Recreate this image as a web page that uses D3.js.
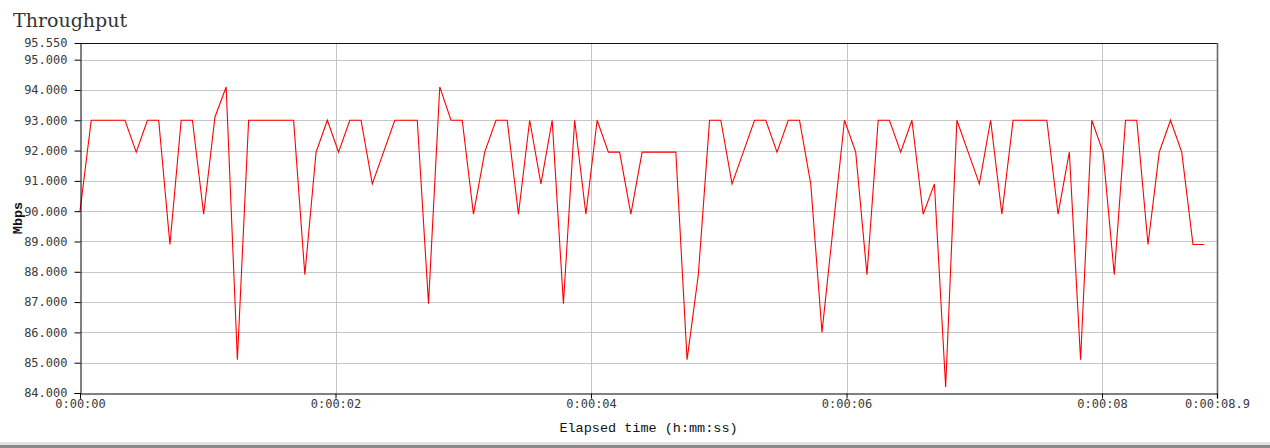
<!DOCTYPE html>
<html>
<head>
<meta charset="utf-8">
<script src="https://cdn.jsdelivr.net/npm/d3@7"></script>
<style>
	body { margin: 0; background: #fff; }
	svg { display: block; }
</style>
</head>
<body>
<div id="chart"></div>
<script>
// sample times (s) and throughput (Mbps)
const times = [
	0.000, 0.088, 0.176, 0.264, 0.352, 0.440, 0.528, 0.616, 0.704, 0.792,
	0.880, 0.968, 1.056, 1.144, 1.232, 1.320, 1.408, 1.496, 1.584, 1.672,
	1.760, 1.848, 1.936, 2.024, 2.112, 2.200, 2.288, 2.376, 2.464, 2.552,
	2.640, 2.728, 2.816, 2.904, 2.992, 3.080, 3.168, 3.256, 3.344, 3.432,
	3.520, 3.608, 3.696, 3.784, 3.872, 3.960, 4.048, 4.136, 4.224, 4.312,
	4.400, 4.488, 4.576, 4.664, 4.752, 4.840, 4.928, 5.016, 5.104, 5.192,
	5.280, 5.368, 5.456, 5.544, 5.632, 5.720, 5.808, 5.896, 5.984, 6.072,
	6.160, 6.248, 6.336, 6.424, 6.512, 6.600, 6.688, 6.776, 6.864, 6.952,
	7.040, 7.128, 7.216, 7.304, 7.392, 7.480, 7.568, 7.656, 7.744, 7.832,
	7.920, 8.008, 8.096, 8.184, 8.272, 8.360, 8.448, 8.536, 8.624, 8.712,
	8.800
];
const mbps = [
	90.0, 93.0, 93.0, 93.0, 93.0, 91.95, 93.0, 93.0, 88.9, 93.0,
	93.0, 89.9, 93.1, 94.1, 85.1, 93.0, 93.0, 93.0, 93.0, 93.0,
	87.9, 91.95, 93.0, 91.95, 93.0, 93.0, 90.9, 91.95, 93.0, 93.0,
	93.0, 86.95, 94.1, 93.0, 93.0, 89.9, 91.95, 93.0, 93.0, 89.9,
	93.0, 90.9, 93.0, 86.95, 93.0, 89.9, 93.0, 91.95, 91.95, 89.9,
	91.95, 91.95, 91.95, 91.95, 85.1, 87.9, 93.0, 93.0, 90.9, 91.95,
	93.0, 93.0, 91.95, 93.0, 93.0, 90.9, 86.0, 89.5, 93.0, 91.95,
	87.9, 93.0, 93.0, 91.95, 93.0, 89.9, 90.9, 84.2, 93.0, 91.95,
	90.9, 93.0, 89.9, 93.0, 93.0, 93.0, 93.0, 89.9, 91.95, 85.1,
	93.0, 91.95, 87.9, 93.0, 93.0, 88.9, 91.95, 93.0, 91.95, 88.9,
	88.9
];
const yTicks = [84, 85, 86, 87, 88, 89, 90, 91, 92, 93, 94, 95, 95.55];
const xTicks = [0, 2, 4, 6, 8, 8.9];
const xTickLabels = ['0:00:00', '0:00:02', '0:00:04', '0:00:06', '0:00:08', '0:00:08.9'];
const xMax = 8.9;
const yMin = 84, yMax = 95.55;

const width = 1270, height = 448;
// top/right/bot/left
const margin = [43, 53, 55, 80];

const svg = d3.select('#chart')
	.append('svg')
	.attr('width', width)
	.attr('height', height);

const x = d3.scaleLinear()
	.domain([0, xMax])
	.range([margin[3], width - margin[1]]);
const y = d3.scaleLinear()
	.domain([yMin, yMax])
	.range([height - margin[2], margin[0]]);

// GRID
svg.append('g')
	.selectAll('line')
	.data(yTicks.filter(d => d > yMin && d < yMax))
	.join('line')
	.attr('x1', x(0)).attr('x2', x(xMax))
	.attr('y1', d => Math.round(y(d)) + 0.5)
	.attr('y2', d => Math.round(y(d)) + 0.5)
	.attr('stroke', '#c6c6c6');
svg.append('g')
	.selectAll('line')
	.data(xTicks.filter(d => d > 0 && d < xMax))
	.join('line')
	.attr('x1', d => Math.round(x(d)) + 0.5)
	.attr('x2', d => Math.round(x(d)) + 0.5)
	.attr('y1', y(yMax)).attr('y2', y(yMin))
	.attr('stroke', '#c6c6c6');

// frame: top black, right grey
svg.append('line')
	.attr('x1', x(0)).attr('x2', x(xMax) + 1)
	.attr('y1', Math.round(y(yMax)) + 0.5).attr('y2', Math.round(y(yMax)) + 0.5)
	.attr('stroke', '#111');
svg.append('line')
	.attr('x1', Math.round(x(xMax)) + 0.5).attr('x2', Math.round(x(xMax)) + 0.5)
	.attr('y1', y(yMax)).attr('y2', y(yMin) + 5)
	.attr('stroke', '#6a6a6a')
	.attr('stroke-width', 1.6);

// DATA LINE
const line = d3.line()
	.x((d, i) => x(times[i]))
	.y(d => y(d));
svg.append('path')
	.datum(mbps)
	.attr('d', line)
	.attr('fill', 'none')
	.attr('stroke', '#ff0000')
	.attr('stroke-width', 1.1)
	.attr('stroke-linejoin', 'miter');

// AXES
const yAxis = d3.axisLeft(y)
	.tickValues(yTicks)
	.tickFormat(d3.format('.3f'))
	.tickSize(6)
	.tickPadding(7);
const gy = svg.append('g')
	.attr('transform', `translate(${x(0) + 0.5},0)`)
	.call(yAxis);
gy.select('.domain').attr('stroke', '#000');
gy.selectAll('.tick line').attr('stroke', '#000')
	.filter(d => d === yMax).remove();
gy.selectAll('.tick text')
	.style('font-family', '"DejaVu Sans Mono", monospace')
	.style('font-size', '12px')
	.attr('fill', '#3a3a3a');

const xAxis = d3.axisBottom(x)
	.tickValues(xTicks)
	.tickFormat((d, i) => xTickLabels[i])
	.tickSize(5)
	.tickPadding(1);
const gx = svg.append('g')
	.attr('transform', `translate(0,${y(yMin) + 0.5})`)
	.call(xAxis);
gx.select('.domain').attr('stroke', '#000');
gx.selectAll('.tick line').attr('stroke', '#000');
gx.selectAll('.tick text')
	.style('font-family', '"DejaVu Sans Mono", monospace')
	.style('font-size', '12px')
	.attr('fill', '#3a3a3a');

// TITLES
svg.append('text')
	.attr('x', 13)
	.attr('y', 27)
	.text('Throughput')
	.style('font-family', '"DejaVu Serif", serif')
	.style('font-size', '19px')
	.attr('fill', '#333');

svg.append('text')
	.attr('transform', `translate(22,${(y(yMin) + y(yMax)) / 2}) rotate(-90)`)
	.attr('text-anchor', 'middle')
	.text('Mbps')
	.style('font-family', '"Liberation Mono", monospace')
	.style('font-size', '13.5px')
	.style('font-weight', 'bold')
	.attr('fill', '#111');

svg.append('text')
	.attr('x', (x(0) + x(xMax)) / 2)
	.attr('y', 432)
	.attr('text-anchor', 'middle')
	.text('Elapsed time (h:mm:ss)')
	.style('font-family', '"Liberation Mono", monospace')
	.style('font-size', '13.5px')
	.attr('fill', '#111');

// bottom strip of the window
svg.append('rect')
	.attr('x', 0).attr('y', 442)
	.attr('width', width).attr('height', 3)
	.attr('fill', '#e2e2e2');
svg.append('rect')
	.attr('x', 0).attr('y', 445)
	.attr('width', width).attr('height', 3)
	.attr('fill', '#8a8a8a');
</script>
</body>
</html>
